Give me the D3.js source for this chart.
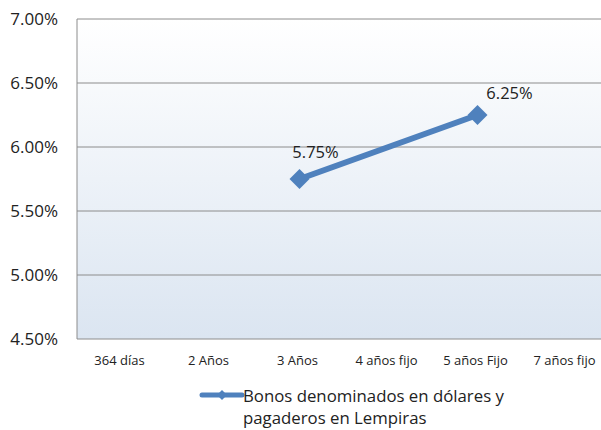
<!DOCTYPE html>
<html><head><meta charset="utf-8">
<script src="https://cdn.jsdelivr.net/npm/d3@7"></script>
<style>body{margin:0;background:#fff}svg{display:block;overflow:hidden}</style>
</head><body>
<svg id="c" width="601" height="430"></svg>
<script>
const categories = ["364 días","2 Años","3 Años","4 años fijo","5 años Fijo","7 años fijo"];
const values = [null,null,5.75,null,6.25,null];
const yTicks = [4.5,5.0,5.5,6.0,6.5,7.0];
const seriesName = ["Bonos denominados en dólares y","pagaderos en Lempiras"];

const svg = d3.select("#c");
const L=77, T=19, R=611, B=339;
const x = d3.scaleBand().domain(categories).range([L,R]);
const y = d3.scaleLinear().domain([4.5,7.0]).range([B,T]);

const defs = svg.append("defs");
const g = defs.append("linearGradient").attr("id","bg").attr("x1",0).attr("y1",0).attr("x2",0).attr("y2",1);
g.append("stop").attr("offset","0%").attr("stop-color","#ffffff");
g.append("stop").attr("offset","100%").attr("stop-color","#dbe5f1");
svg.append("rect").attr("x",L).attr("y",T).attr("width",R-L).attr("height",B-T).attr("fill","url(#bg)");

svg.append("g").selectAll("line").data(yTicks).join("line")
  .attr("x1",L).attr("x2",R).attr("y1",d=>y(d)).attr("y2",d=>y(d))
  .attr("stroke","#8c8c8c").attr("stroke-width",1);
svg.append("line").attr("x1",L).attr("x2",L).attr("y1",T).attr("y2",B).attr("stroke","#8c8c8c");

svg.append("g").selectAll("text").data(yTicks).join("text")
  .attr("x",58).attr("y",d=>y(d)).attr("dy","0.36em").attr("text-anchor","end")
  .attr("font-family","Open Sans, sans-serif").attr("font-size",17).attr("fill","#222")
  .text(d=>d.toFixed(2)+"%");

svg.append("g").selectAll("text").data(categories).join("text")
  .attr("x",d=>x(d)+x.bandwidth()/2-2).attr("y",360).attr("dy","0.36em").attr("text-anchor","middle")
  .attr("font-family","Open Sans, sans-serif").attr("font-size",13).attr("fill","#222")
  .text(d=>d);

const pts = categories.map((c,i)=>({c,v:values[i],i})).filter(d=>d.v!==null);
const line = d3.line().x(d=>x(d.c)+x.bandwidth()/2).y(d=>y(d.v));
svg.append("path").datum(pts).attr("d",line).attr("fill","none").attr("stroke","#4f81bd").attr("stroke-width",6).attr("stroke-linecap","round");
svg.append("g").selectAll("path").data(pts).join("path")
  .attr("d",d3.symbol().type(d3.symbolSquare).size(200)).attr("transform",d=>`translate(${x(d.c)+x.bandwidth()/2},${y(d.v)}) rotate(45)`)
  .attr("fill","#4f81bd");
const lblDx = [16,32], lblDy = [-27,-22];
svg.append("g").selectAll("text").data(pts).join("text")
  .attr("x",(d,k)=>x(d.c)+x.bandwidth()/2+lblDx[k]).attr("y",(d,k)=>y(d.v)+lblDy[k]).attr("dy","0.36em").attr("text-anchor","middle")
  .attr("font-family","Open Sans, sans-serif").attr("font-size",16.5).attr("fill","#222")
  .text(d=>d.v.toFixed(2)+"%");

// legend
svg.append("line").attr("x1",202).attr("x2",242).attr("y1",395).attr("y2",395).attr("stroke","#4f81bd").attr("stroke-width",5).attr("stroke-linecap","round");
svg.append("path").attr("d",d3.symbol().type(d3.symbolSquare).size(50)).attr("transform","translate(222,395) rotate(45)").attr("fill","#4f81bd");
svg.append("g").selectAll("text").data(seriesName).join("text")
  .attr("x",243).attr("y",(d,i)=>396+i*22).attr("dy","0.36em")
  .attr("font-family","Open Sans, sans-serif").attr("font-size",16.8).attr("fill","#222")
  .text(d=>d);
</script>
</body></html>
